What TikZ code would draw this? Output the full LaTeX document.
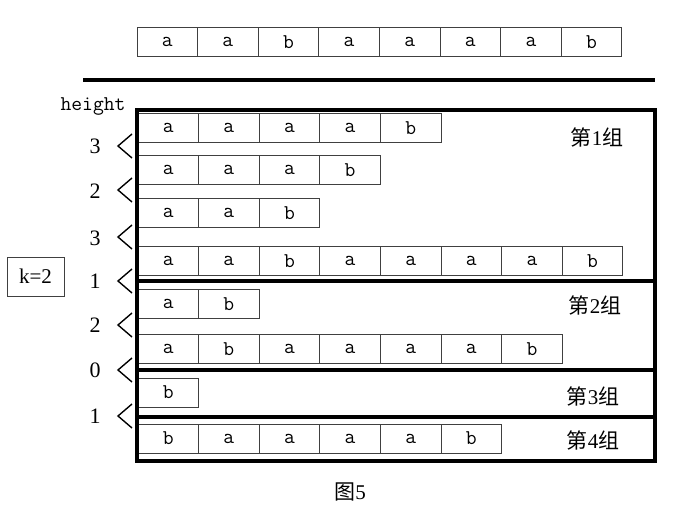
\documentclass[tikz,border=0pt]{standalone}
\usepackage{fontspec}
\newfontfamily\cjk{Noto Sans CJK SC}
\newfontfamily\numf{Liberation Serif}
\begin{document}
\begin{tikzpicture}[x=1pt, y=-1pt,
  cell/.style={rectangle, draw=black!75, line width=0.9pt, minimum width=60.6pt, minimum height=29pt, inner sep=0pt, font=\fontsize{21}{21}\ttfamily},
  grp/.style={font=\fontsize{21}{21}\numf},
  hgt/.style={font=\fontsize{22}{22}\numf},
  frame/.style={line width=4pt},
  lt/.style={line width=1.4pt}]
\useasboundingbox (0,0) rectangle (690,524);
% the whole string
\node[cell] (s0) at (167.3,42){a};
\node[cell] (s1) at (227.9,42){a};
\node[cell] (s2) at (288.5,42){b};
\node[cell] (s3) at (349.1,42){a};
\node[cell] (s4) at (409.7,42){a};
\node[cell] (s5) at (470.3,42){a};
\node[cell] (s6) at (530.9,42){a};
\node[cell] (s7) at (591.5,42){b};
\draw[line width=3.5pt] (83,80) -- (655,80);
% sorted suffixes
\node[cell] (r10) at (168.3,128){a};
\node[cell] (r11) at (228.9,128){a};
\node[cell] (r12) at (289.5,128){a};
\node[cell] (r13) at (350.1,128){a};
\node[cell] (r14) at (410.7,128){b};
\node[cell] (r20) at (168.3,170){a};
\node[cell] (r21) at (228.9,170){a};
\node[cell] (r22) at (289.5,170){a};
\node[cell] (r23) at (350.1,170){b};
\node[cell] (r30) at (168.3,213){a};
\node[cell] (r31) at (228.9,213){a};
\node[cell] (r32) at (289.5,213){b};
\node[cell] (r40) at (168.3,261){a};
\node[cell] (r41) at (228.9,261){a};
\node[cell] (r42) at (289.5,261){b};
\node[cell] (r43) at (350.1,261){a};
\node[cell] (r44) at (410.7,261){a};
\node[cell] (r45) at (471.3,261){a};
\node[cell] (r46) at (531.9,261){a};
\node[cell] (r47) at (592.5,261){b};
\node[cell] (r50) at (168.3,304){a};
\node[cell] (r51) at (228.9,304){b};
\node[cell] (r60) at (168.3,349){a};
\node[cell] (r61) at (228.9,349){b};
\node[cell] (r62) at (289.5,349){a};
\node[cell] (r63) at (350.1,349){a};
\node[cell] (r64) at (410.7,349){a};
\node[cell] (r65) at (471.3,349){a};
\node[cell] (r66) at (531.9,349){b};
\node[cell] (r70) at (168.3,392.5){b};
\node[cell] (r80) at (168.3,438.5){b};
\node[cell] (r81) at (228.9,438.5){a};
\node[cell] (r82) at (289.5,438.5){a};
\node[cell] (r83) at (350.1,438.5){a};
\node[cell] (r84) at (410.7,438.5){a};
\node[cell] (r85) at (471.3,438.5){b};
% groups
\draw[frame] (137,110) rectangle (655,461);
\draw[frame] (137,281) -- (655,281);
\draw[frame] (137,369.5) -- (655,369.5);
\draw[frame] (137,416.5) -- (655,416.5);
\node[grp] (g1) at (597,137){{\cjk 第}1{\cjk 组}};
\node[grp] (g2) at (595,305){{\cjk 第}2{\cjk 组}};
\node[grp] (g3) at (593,396){{\cjk 第}3{\cjk 组}};
\node[grp] (g4) at (593,440){{\cjk 第}4{\cjk 组}};
% height
\node[font=\fontsize{21}{21}\ttfamily] (hd) at (93,106){height};
\node[hgt] (h1) at (95,146){3};
\node[hgt] (h2) at (95,191){2};
\node[hgt] (h3) at (95,238){3};
\node[hgt] (h4) at (95,281){1};
\node[hgt] (h5) at (95,325){2};
\node[hgt] (h6) at (95,370){0};
\node[hgt] (h7) at (95,416){1};
\draw[lt] (132,134) -- (118,146) -- (132,158);
\draw[lt] (132,178) -- (118,190) -- (132,202);
\draw[lt] (132,225) -- (118,237) -- (132,249);
\draw[lt] (132,269) -- (118,281) -- (132,293);
\draw[lt] (132,313) -- (118,325) -- (132,337);
\draw[lt] (132,358) -- (118,370) -- (132,382);
\draw[lt] (132,404) -- (118,416) -- (132,428);
\node[draw=black!75, line width=0.9pt, minimum width=57pt, minimum height=39pt, font=\fontsize{21}{21}\numf] (k) at (35.5,276.5){k=2};
\node[grp] (cap) at (350,492){{\cjk 图}5};
\end{tikzpicture}
\end{document}
